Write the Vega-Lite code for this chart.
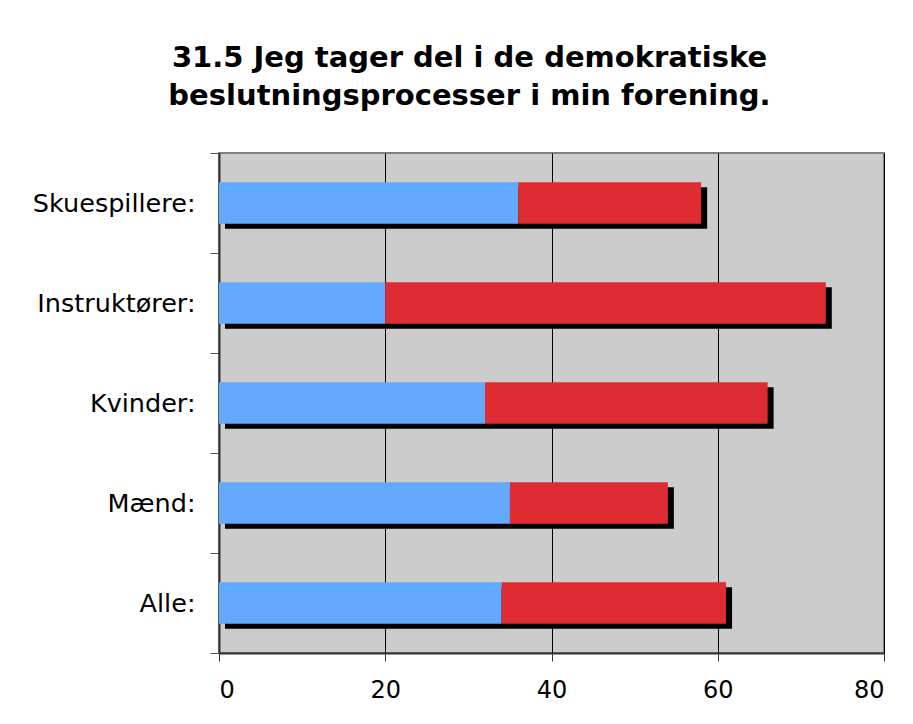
{
  "$schema": "https://vega.github.io/schema/vega-lite/v6.json",
  "width": 665,
  "height": 500,
  "autosize": {"type": "none"},
  "padding": {"left": 219, "top": 153, "right": 29, "bottom": 71},
  "background": "white",
  "title": {
    "text": ["31.5 Jeg tager del i de demokratiske", "beslutningsprocesser i min forening."],
    "font": "DejaVu Sans",
    "fontSize": 29,
    "fontWeight": "bold",
    "color": "#000000",
    "anchor": "middle",
    "dx": -82,
    "baseline": "alphabetic",
    "lineHeight": 38,
    "offset": 7
  },
  "data": {
    "values": [
      {"kategori": "Skuespillere:", "serie": "1", "værdi": 36},
      {"kategori": "Skuespillere:", "serie": "2", "værdi": 22},
      {"kategori": "Instruktører:", "serie": "1", "værdi": 20},
      {"kategori": "Instruktører:", "serie": "2", "værdi": 53},
      {"kategori": "Kvinder:", "serie": "1", "værdi": 32},
      {"kategori": "Kvinder:", "serie": "2", "værdi": 34},
      {"kategori": "Mænd:", "serie": "1", "værdi": 35},
      {"kategori": "Mænd:", "serie": "2", "værdi": 19},
      {"kategori": "Alle:", "serie": "1", "værdi": 34},
      {"kategori": "Alle:", "serie": "2", "værdi": 27}
    ]
  },
  "encoding": {
    "y": {
      "field": "kategori",
      "type": "nominal",
      "sort": ["Skuespillere:", "Instruktører:", "Kvinder:", "Mænd:", "Alle:"],
      "scale": {"paddingInner": 0, "paddingOuter": 0},
      "axis": {
        "title": null,
        "labelFont": "DejaVu Sans",
        "labelFontSize": 25.5,
        "labelColor": "#000000",
        "labelPadding": 15,
        "tickBand": "extent",
        "tickSize": 9,
        "tickColor": "#555555",
        "domainColor": "#333333",
        "domainWidth": 2,
        "grid": false
      }
    }
  },
  "layer": [
    {
      "transform": [{"aggregate": [{"op": "sum", "field": "værdi", "as": "total"}], "groupby": ["kategori"]}],
      "mark": {"type": "bar", "color": "#000000", "height": {"band": 0.415}, "xOffset": 6, "x2Offset": 6, "yOffset": 5, "y2Offset": 5},
      "encoding": {
        "x": {"field": "total", "type": "quantitative"}
      }
    },
    {
      "mark": {"type": "bar", "height": {"band": 0.415}},
      "encoding": {
        "x": {
          "field": "værdi",
          "type": "quantitative",
          "stack": "zero",
          "scale": {"domain": [0, 80]},
          "axis": {
            "title": null,
            "values": [0, 20, 40, 60, 80],
            "labelFont": "DejaVu Sans",
            "labelFontSize": 24,
            "labelColor": "#000000",
            "labelPadding": 17,
            "tickSize": 8,
            "tickColor": "#333333",
            "domainColor": "#333333",
            "domainWidth": 2,
            "grid": true,
            "gridColor": "#000000",
            "gridWidth": 1,
            "gridOpacity": 1
          }
        },
        "color": {
          "field": "serie",
          "type": "nominal",
          "scale": {"domain": ["1", "2"], "range": ["#62A9FF", "#DE2C32"]},
          "legend": null
        },
        "order": {"field": "serie", "sort": "ascending"}
      }
    }
  ],
  "config": {
    "view": {"fill": "#CCCCCC", "stroke": "#808080", "strokeWidth": 2}
  }
}
